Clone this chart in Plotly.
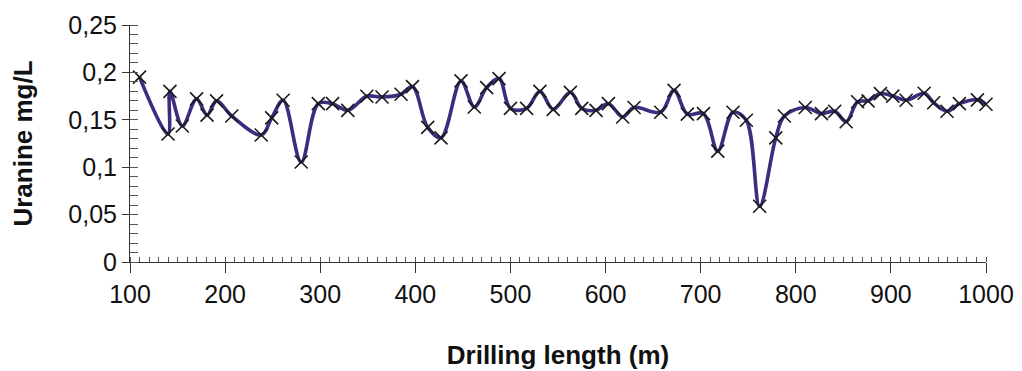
import plotly.graph_objects as go

drilling_length = [110, 140, 142, 155, 170, 181, 191, 207, 238, 249,
                   261, 280, 298, 313, 329, 349, 365, 385, 397, 413,
                   427, 448, 462, 475, 488, 500, 517, 531, 545, 563,
                   575, 590, 603, 618, 630, 658, 672, 686, 703, 718,
                   734, 748, 762, 779, 788, 810, 827, 841, 853, 865,
                   876, 889, 902, 916, 935, 945, 959, 972, 991, 1000]
uranine = [0.195, 0.135, 0.180, 0.1435, 0.172, 0.155, 0.170, 0.154, 0.134, 0.152,
           0.1706, 0.1055, 0.167, 0.167, 0.160, 0.1748, 0.174, 0.177, 0.185, 0.142,
           0.131, 0.191, 0.1635, 0.184, 0.1935, 0.162, 0.162, 0.180, 0.161, 0.179,
           0.162, 0.160, 0.167, 0.153, 0.163, 0.158, 0.181, 0.156, 0.1565, 0.117,
           0.158, 0.1495, 0.0588, 0.131, 0.154, 0.163, 0.1565, 0.159, 0.148, 0.169,
           0.170, 0.1776, 0.175, 0.1706, 0.178, 0.168, 0.159, 0.167, 0.171, 0.1664]

y_tickvals = [0, 0.05, 0.1, 0.15, 0.2, 0.25]
y_ticktext = ["0", "0,05", "0,1", "0,15", "0,2", "0,25"]
x_tickvals = [100, 200, 300, 400, 500, 600, 700, 800, 900, 1000]

fig = go.Figure()
fig.add_trace(go.Scatter(
    x=drilling_length, y=uranine,
    mode="lines",
    line=dict(color="#3f2b7f", width=3.6, shape="spline", smoothing=1.0),
    hoverinfo="skip", showlegend=False,
))
fig.add_trace(go.Scatter(
    x=drilling_length, y=uranine,
    mode="markers",
    marker=dict(symbol="x-thin", size=13, line=dict(color="#1a1a1a", width=1.6)),
    cliponaxis=False, showlegend=False,
))

font_family = "Liberation Sans, Arial, sans-serif"
fig.update_layout(
    width=1014, height=363,
    margin=dict(l=122, r=36, t=17, b=109, autoexpand=False),
    paper_bgcolor="white", plot_bgcolor="white",
    font=dict(family=font_family, color="#111", size=25),
    xaxis=dict(
        range=[100, 1000], tickvals=x_tickvals, automargin=False,
        showgrid=False, zeroline=False,
        showline=True, linecolor="#333", linewidth=1,
        ticks="outside", ticklen=10, tickcolor="#333", tickwidth=1,
        minor=dict(ticks="inside", ticklen=5, dtick=10, tickcolor="#555", tickwidth=1, showgrid=False),
        tickfont=dict(size=25),
        title=dict(text="<b>Drilling length (m)</b>", font=dict(size=26), standoff=38),
    ),
    yaxis=dict(
        range=[0, 0.25], tickvals=y_tickvals, ticktext=y_ticktext, automargin=False,
        showgrid=False, zeroline=False,
        showline=True, linecolor="#333", linewidth=1,
        ticks="outside", ticklen=7, tickcolor="#333", tickwidth=1,
        minor=dict(ticks="inside", ticklen=8, dtick=0.01, tickcolor="#555", tickwidth=1, showgrid=False),
        tickfont=dict(size=25),
        title=dict(text="<b>Uranine mg/L</b>", font=dict(size=26), standoff=30),
    ),
)

fig.write_html("out.html")
